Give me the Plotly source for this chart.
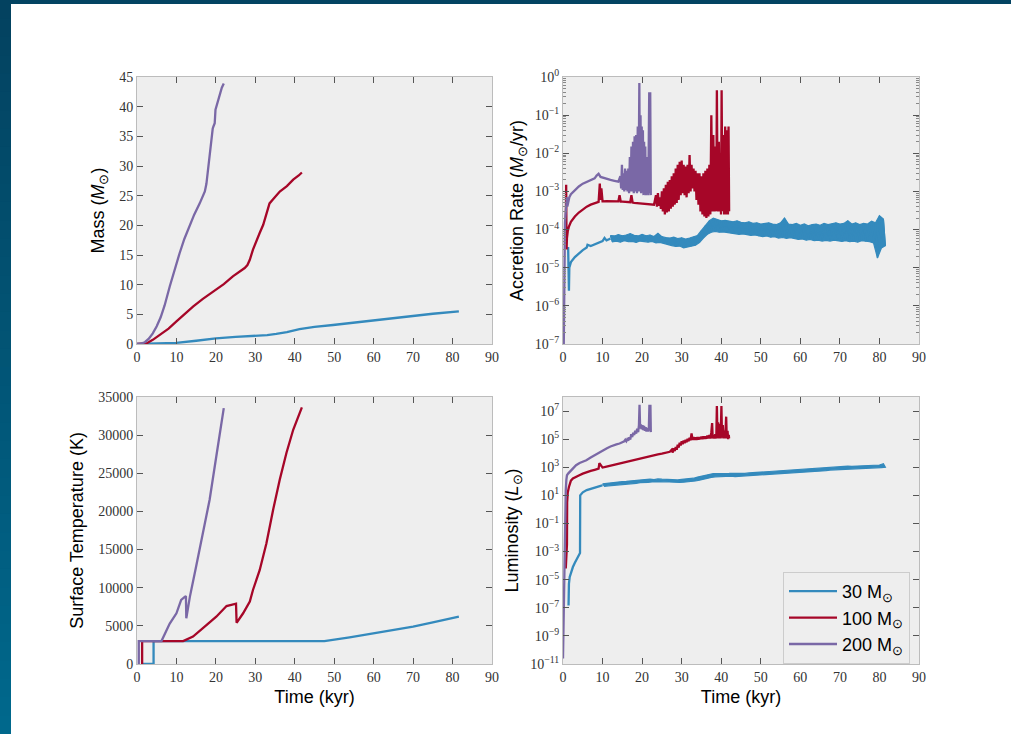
import plotly.graph_objects as go

# ------------------------------------------------------------------
# DATA
# ------------------------------------------------------------------
series_names = ["30 M<sub>⊙</sub>", "100 M<sub>⊙</sub>", "200 M<sub>⊙</sub>"]

# --- Mass (Msun) vs time (kyr)
mass30_t = [0, 5, 10, 15, 20, 25, 29.4, 33, 35.3, 38, 41.2, 45, 49.7, 55, 59.8, 65, 70, 75, 81.6]
mass30_m = [0, 0.05, 0.2, 0.55, 0.95, 1.2, 1.35, 1.5, 1.7, 2.0, 2.5, 2.9, 3.2, 3.6, 4.05, 4.4, 4.8, 5.1, 5.5]
mass100_t = [0, 1.5, 2.4, 4, 5.7, 8, 10, 12, 14.2, 16.7, 19.3, 22, 24.3, 26, 27.3, 28, 28.6, 29.4,
             30.3, 31.1, 32, 32.8, 33.6, 34.5, 36.2, 38, 39.6, 41, 41.8]
mass100_m = [0, 0, 0.1, 0.7, 1.5, 2.6, 3.8, 5.0, 6.3, 7.6, 8.8, 10.1, 11.4, 12.2, 12.8, 13.3, 14.2, 15.9,
             17.5, 18.7, 20.1, 22.0, 23.7, 24.4, 25.7, 26.6, 27.7, 28.4, 28.9]
mass200_t = [0, 1, 2, 3, 4, 5, 6, 7, 8.3, 9.5, 10.8, 12, 13.4, 14.5, 15.9, 17.2, 17.6, 18.0, 18.5,
             18.9, 19.2, 19.4, 19.7, 19.9, 20.5, 21, 21.5, 22]
mass200_m = [0, 0.05, 0.3, 0.9, 1.8, 3.0, 4.5, 6.5, 9.7, 12.5, 15.3, 17.7, 20, 21.8, 23.7, 25.7, 27, 29.4, 32,
             35, 36.3, 36.7, 37.2, 39.5, 40.8, 42.3, 43.2, 43.9]

# --- Accretion rate (Msun/yr)
acc30_t = [1.3, 1.4, 1.5, 1.6, 2, 3, 4, 5, 6, 6.2, 7, 8, 9, 10, 10.5, 11, 11.5, 12]
acc30_v = [3.5e-5, 2.5e-6, 2.5e-6, 1e-5, 1.4e-5, 1.9e-5, 2.4e-5, 2.9e-5, 3.4e-5, 4e-5, 3.7e-5,
           4.1e-5, 4.5e-5, 5e-5, 6e-5, 5.2e-5, 5.5e-5, 5.8e-5]
# noisy band: upper edge at t = 12, 13, ... 81 ; lower edge at t = 12.5, 13.5, ... 81.5
acc30_band_start = 12
acc30_upper = [7.0e-5, 6.8e-5, 7.4e-5, 6.9e-5, 7.2e-5, 7.8e-5, 7.1e-5, 6.8e-5, 7.5e-5, 6.9e-5,
               7.2e-5, 6.6e-5, 8.0e-5, 6.5e-5, 6.2e-5, 6.0e-5, 6.3e-5, 5.8e-5, 6.1e-5, 5.6e-5,
               6.0e-5, 6.4e-5, 7.0e-5, 9.5e-5, 1.3e-4, 1.7e-4, 2.0e-4, 1.8e-4, 1.7e-4, 1.75e-4,
               1.65e-4, 1.6e-4, 1.7e-4, 1.55e-4, 1.5e-4, 1.6e-4, 1.45e-4, 1.5e-4, 1.4e-4, 1.45e-4,
               1.5e-4, 1.4e-4, 1.35e-4, 1.5e-4, 2.0e-4, 1.4e-4, 1.35e-4, 1.45e-4, 1.3e-4, 1.4e-4,
               1.25e-4, 1.35e-4, 1.4e-4, 1.3e-4, 1.45e-4, 1.35e-4, 1.4e-4, 1.5e-4, 1.4e-4, 1.45e-4,
               1.7e-4, 1.4e-4, 1.5e-4, 1.35e-4, 1.45e-4, 1.4e-4, 1.65e-4, 1.5e-4, 2.3e-4, 1.9e-4]
acc30_lower = [4.8e-5, 5.0e-5, 4.7e-5, 5.1e-5, 4.8e-5, 4.9e-5, 4.6e-5, 5.0e-5, 4.8e-5, 4.7e-5,
               4.9e-5, 4.5e-5, 4.6e-5, 4.2e-5, 4.0e-5, 3.8e-5, 3.6e-5, 3.7e-5, 3.3e-5, 3.5e-5,
               3.7e-5, 3.9e-5, 4.6e-5, 6.0e-5, 7.5e-5, 8.5e-5, 9.0e-5, 8.5e-5, 8.7e-5, 8.3e-5,
               8.0e-5, 7.7e-5, 7.5e-5, 7.7e-5, 7.3e-5, 7.0e-5, 7.2e-5, 6.7e-5, 6.5e-5, 6.8e-5,
               6.3e-5, 6.5e-5, 6.0e-5, 6.2e-5, 5.9e-5, 6.1e-5, 5.7e-5, 5.5e-5, 5.7e-5, 5.3e-5,
               5.5e-5, 5.1e-5, 5.3e-5, 5.0e-5, 5.2e-5, 5.0e-5, 5.3e-5, 5.1e-5, 4.9e-5, 5.1e-5,
               4.8e-5, 5.0e-5, 4.7e-5, 5.1e-5, 4.9e-5, 4.8e-5, 4.5e-5, 1.8e-5, 3.3e-5, 3.8e-5]

acc100_t = [0.5, 0.7, 0.8, 0.85, 0.9, 1.0, 1.2, 1.5, 2, 3, 4, 5, 6, 7, 8, 9, 9.3, 9.5, 9.7, 10, 11, 12,
            13, 14, 14.3, 14.6, 15, 16, 17, 17.3, 17.6, 18, 19, 20, 21, 22, 23,
            23.5, 23.75, 24.0, 24.25, 24.5, 24.75, 25, 25.25, 25.5, 25.75, 26, 26.25, 26.5, 26.75,
            27, 27.25, 27.5, 27.75, 28, 28.25, 28.5, 28.75, 29, 29.25, 29.5, 29.75, 30, 30.25,
            30.5, 30.75, 31, 31.25, 31.5, 31.75, 32, 32.25, 32.5, 32.75, 33, 33.25, 33.5, 33.75,
            34, 34.25, 34.5, 34.75, 35, 35.25, 35.5, 35.75, 36, 36.25, 36.5, 36.75, 37, 37.25,
            37.5, 37.75, 38, 38.25, 38.5, 38.75, 38.9, 39.1, 39.4, 39.6, 39.8, 39.95, 40.1, 40.3,
            40.5, 40.75, 41, 41.25, 41.5, 41.7, 41.85, 42.0]
acc100_v = [8e-5, 1e-4, 1.5e-3, 5e-4, 3e-5, 6e-5, 9e-5, 1.2e-4, 1.6e-4, 2.2e-4, 2.8e-4, 3.4e-4, 4e-4,
            4.5e-4, 5e-4, 5.3e-4, 1.6e-3, 6e-4, 1.2e-3, 5.5e-4, 5.6e-4, 5.6e-4, 5.5e-4, 5.5e-4, 8e-4,
            5.4e-4, 5.4e-4, 5.3e-4, 5.2e-4, 8e-4, 5.1e-4, 5e-4, 4.9e-4, 4.8e-4, 4.7e-4, 4.6e-4, 4.5e-4,
            8e-4, 4e-4, 9e-4, 4.2e-4, 7e-4, 3.5e-4, 1e-3, 3e-4, 1.2e-3, 2.5e-4, 1.5e-3, 2.8e-4,
            1.8e-3, 3e-4, 2e-3, 3.5e-4, 2.5e-3, 4e-4, 3e-3, 4.5e-4, 4e-3, 5e-4, 5e-3, 6e-4, 6e-3,
            8e-4, 6.5e-3, 9e-4, 5e-3, 8e-4, 4.5e-3, 7e-4, 5e-3, 9e-4, 9e-3, 1e-3, 5e-3, 1.2e-3,
            4e-3, 1e-3, 3.5e-3, 6e-4, 3e-3, 4.5e-4, 3e-3, 3e-4, 2.5e-3, 2.5e-4, 3e-3, 2.2e-4,
            3.5e-3, 2e-4, 4e-3, 2.2e-4, 5e-3, 2.5e-4, 1e-1, 3e-4, 3e-2, 3e-4, 1.5e-2, 3e-4,
            4.5e-1, 3e-4, 2e-2, 3e-4, 1e-2, 2.5e-4, 4.5e-1, 3e-4, 3e-2, 2.5e-4, 5e-2, 2.5e-4,
            4e-2, 2.5e-4, 5e-2, 3e-4]

acc200_t = [0.2, 0.3, 0.4, 0.5, 0.7, 0.9, 1.0, 1.1, 1.3, 1.6, 2, 3, 4, 5, 6, 7, 8, 8.5, 9, 9.5, 10,
            11, 12, 13, 14, 14.5, 14.7, 14.9, 15.1, 15.3, 15.5, 15.7, 15.9, 16.1, 16.3, 16.5, 16.7,
            16.9, 17.1, 17.3, 17.5, 17.7, 17.9, 18.1, 18.3, 18.5, 18.7, 18.9, 19.1, 19.3, 19.45,
            19.6, 19.75, 19.9, 20.05, 20.2, 20.35, 20.5, 20.65, 20.8, 20.95, 21.1, 21.25, 21.4,
            21.55, 21.8, 21.95, 22.05, 22.2]
acc200_v = [1e-7, 2e-6, 3e-5, 1.5e-4, 3e-4, 5e-4, 7e-4, 4e-4, 5.5e-4, 7e-4, 8.5e-4, 1.1e-3, 1.35e-3,
            1.6e-3, 1.8e-3, 2e-3, 2.2e-3, 2.6e-3, 2.9e-3, 2.4e-3, 2.3e-3, 2.1e-3, 2e-3, 1.9e-3,
            1.8e-3, 2.5e-3, 1.2e-3, 5e-3, 1.1e-3, 3e-3, 1e-3, 4e-3, 1.1e-3, 3.5e-3, 1e-3, 4e-3,
            9e-4, 8e-3, 1e-3, 1.5e-2, 1e-3, 2e-2, 9e-4, 2.8e-2, 1e-3, 3e-2, 9e-4, 5e-2, 1e-3,
            7e-1, 1e-3, 1e-1, 9e-4, 5e-2, 1e-3, 4e-2, 8e-4, 2e-2, 9e-4, 1.5e-2, 8e-4, 8e-3, 9e-4,
            6e-3, 8e-4, 4e-1, 9e-4, 4e-1, 8e-4]

# --- Surface temperature (K)
temp30_t = [1.4, 4.2, 4.2, 47.5, 53.9, 59.8, 65, 70, 75, 81.6]
temp30_T = [0, 0, 3000, 3000, 3500, 4020, 4450, 4900, 5450, 6210]
temp100_t = [1.3, 1.3, 11.7, 14.2, 17.6, 20.1, 22.7, 25.1, 25.25, 26.9, 28.6, 29.4, 31.1, 32.8,
             34.5, 36.2, 37.9, 39.6, 41.8]
temp100_T = [0, 3000, 3000, 3600, 5100, 6200, 7600, 7900, 5400, 6650, 8200, 9700, 12300, 15800,
             20200, 24200, 27700, 30700, 33650]
temp200_t = [0.45, 0.45, 6.2, 7.5, 8.3, 10, 11.2, 12.1, 12.4, 12.5, 13.4, 15, 16.7, 18.4, 20.1, 22]
temp200_T = [0, 3000, 3000, 4300, 5300, 6650, 8400, 8800, 8900, 6000, 8800, 12800, 17150, 21500,
             27200, 33550]

# --- Luminosity (log10 Lsun)
lum30_t = [1.4, 1.45, 1.5, 1.7, 2, 2.5, 3, 3.5, 4, 4.3, 4.35, 5, 6, 7, 8, 9, 9.5, 10]
lum30_log = [-6.84, -5.5, -5.3, -4.8, -4.5, -4.1, -3.8, -3.5, -3.25, -3.1, 1.0, 1.22, 1.38, 1.48,
             1.56, 1.64, 1.68, 1.72]
# noisy band: upper edge at t = 10, 11, ... 81 ; lower edge at t = 10.5, 11.5, ... 81.5
lum30_band_start = 10
lum30_upper_log = [1.82, 1.86, 1.88, 1.92, 1.93, 1.98, 2.0, 2.03, 2.06, 2.1,
                   2.12, 2.14, 2.16, 2.12, 2.17, 2.15, 2.13, 2.14, 2.12, 2.1,
                   2.14, 2.15, 2.18, 2.22, 2.3, 2.36, 2.42, 2.5, 2.55, 2.55,
                   2.57, 2.58, 2.56, 2.57, 2.55, 2.58, 2.56, 2.6, 2.62, 2.63,
                   2.65, 2.66, 2.68, 2.72, 2.73, 2.76, 2.8, 2.78, 2.82, 2.84,
                   2.84, 2.86, 2.88, 2.9, 2.92, 2.94, 2.96, 2.98, 3.02, 3.05,
                   3.05, 3.06, 3.08, 3.07, 3.08, 3.09, 3.1, 3.12, 3.14, 3.15,
                   3.16, 3.25]
lum30_lower_log = [1.64, 1.68, 1.70, 1.74, 1.77, 1.80, 1.82, 1.84, 1.86, 1.9,
                   1.94, 1.93, 1.96, 1.97, 1.96, 1.97, 1.95, 1.93, 1.94, 1.92,
                   1.94, 1.96, 1.98, 2.02, 2.08, 2.16, 2.2, 2.28, 2.32, 2.35,
                   2.35, 2.36, 2.36, 2.34, 2.36, 2.38, 2.37, 2.39, 2.4, 2.43,
                   2.45, 2.45, 2.48, 2.5, 2.52, 2.56, 2.56, 2.6, 2.6, 2.63,
                   2.64, 2.66, 2.68, 2.7, 2.72, 2.74, 2.76, 2.8, 2.82, 2.84,
                   2.86, 2.86, 2.88, 2.89, 2.9, 2.9, 2.92, 2.94, 2.96, 2.97,
                   2.98, 3.0]

lum100_t = [0.7, 0.75, 0.8, 0.9, 1.0, 1.05, 1.2, 1.5, 2, 2.5, 3.4, 4, 5, 6, 7, 8, 9, 9.2, 9.5, 9.8,
            10, 11, 12, 13, 14, 15, 16, 17, 18, 19, 20, 21, 22, 23, 24, 25, 26, 27,
            27.5, 27.75, 28, 28.25, 28.5, 28.75, 29, 29.25, 29.5, 29.75, 30, 30.25, 30.5, 30.75,
            31, 31.25, 31.5, 31.75, 32, 32.25, 32.5, 32.75, 33, 33.25, 33.5, 33.75, 34, 34.25,
            34.5, 34.75, 35, 35.25, 35.5, 35.75, 36, 36.25, 36.5, 36.75, 37, 37.25, 37.5, 37.7,
            37.85, 38.0, 38.25, 38.5, 38.75, 38.9, 39.05, 39.2, 39.35, 39.5, 39.7, 39.85, 40.05,
            40.2, 40.4, 40.55, 40.8, 41.0, 41.25, 41.4, 41.6, 41.75, 41.9, 42.0]
lum100_log = [-4.2, -3.8, -3.2, -2.8, -2.5, 0.5, 1.2, 1.6, 2.05, 2.2, 2.3, 2.42, 2.55, 2.66, 2.74,
              2.82, 2.9, 3.3, 3.2, 3.1, 2.98, 3.05, 3.12, 3.17, 3.25, 3.3, 3.37, 3.45, 3.52, 3.6,
              3.68, 3.73, 3.8, 3.85, 3.92, 3.97, 4.03, 4.1,
              4.25, 4.05, 4.35, 4.15, 4.45, 4.25, 4.6, 4.4, 4.75, 4.55, 4.85, 4.65, 4.9, 4.72,
              4.95, 4.78, 5.02, 4.85, 5.1, 4.92, 5.4, 4.95, 5.15, 4.95, 5.12, 4.95, 5.15, 4.97,
              5.15, 5.0, 5.18, 5.0, 5.2, 5.02, 5.2, 5.03, 5.25, 5.05, 5.3, 5.05, 5.5, 6.15,
              5.05, 5.3, 5.05, 5.35, 5.05, 7.35, 5.1, 6.2, 5.05, 5.5, 6.1, 5.05, 7.35,
              5.1, 6.0, 5.05, 5.6, 5.05, 6.6, 5.05, 5.6, 5.0, 5.3, 5.05]

lum200_t = [0.0, 0.1, 0.17, 0.25, 0.34, 0.5, 0.6, 0.7, 0.85, 1.0, 1.3, 1.7, 2.5, 3.3, 4.2, 5, 5.9,
            7, 7.6, 8.5, 9.3, 10, 11, 12, 12.7, 13.5, 14.3, 15, 15.5,
            15.75, 16.0, 16.25, 16.5, 16.75, 17.0, 17.25, 17.5, 17.75, 18.0, 18.25, 18.5, 18.75,
            19.0, 19.2, 19.35, 19.5, 19.7, 19.9, 20.1, 20.3, 20.5, 20.7, 20.9, 21.1, 21.3, 21.5,
            21.7, 21.85, 22.0, 22.1, 22.2]
lum200_log = [-10.6, -9, -7.4, -5, -2.9, -2.2, -1, 1.36, 2.1, 2.43, 2.55, 2.67, 2.98, 3.15, 3.31,
              3.4, 3.5, 3.69, 3.79, 3.95, 4.1, 4.2, 4.34, 4.48, 4.57, 4.63, 4.69, 4.78, 4.85,
              4.95, 4.85, 5.0, 4.9, 5.12, 4.98, 5.35, 5.15, 5.45, 5.3, 5.6, 5.4, 5.75,
              5.5, 6.0, 7.45, 5.75, 6.05, 5.7, 6.0, 5.65, 5.95, 5.6, 5.85, 5.55, 5.8, 5.55,
              5.75, 7.45, 5.6, 7.45, 5.5]

# tick labels
time_ticks = [0, 10, 20, 30, 40, 50, 60, 70, 80, 90]
mass_ticks = [0, 5, 10, 15, 20, 25, 30, 35, 40, 45]
temp_ticks = [0, 5000, 10000, 15000, 20000, 25000, 30000, 35000]
acc_exponents = [-7, -6, -5, -4, -3, -2, -1, 0]
lum_exponents = [-11, -9, -7, -5, -3, -1, 1, 3, 5, 7]


# ------------------------------------------------------------------
# helpers
# ------------------------------------------------------------------
def band_polygon(t0, upper, lower):
    """closed outline: upper edge left->right, lower edge right->left"""
    tu = [t0 + k for k in range(len(upper))]
    tl = [t0 + k + 0.5 for k in range(len(lower))]
    return tu + tl[::-1] + [tu[0]], list(upper) + list(lower)[::-1] + [upper[0]]


def band_zigzag(t0, upper, lower):
    ts, vs = [], []
    for k, (u, l) in enumerate(zip(upper, lower)):
        ts += [t0 + k, t0 + k + 0.5]
        vs += [u, l]
    return ts, vs


def sup(e):
    return "10<sup>" + str(e).replace("-", "−") + "</sup>"


COLORS = ["#348ABD", "#A60628", "#7A68A6"]
LW = 2.3

fig = go.Figure()


def line(xa, ya, t, v, i, leg=False):
    fig.add_trace(go.Scatter(x=t, y=v, xaxis=xa, yaxis=ya, mode="lines",
                             line=dict(color=COLORS[i], width=LW),
                             name=series_names[i], showlegend=leg, hoverinfo="skip"))


def fillband(xa, ya, t, v, i):
    fig.add_trace(go.Scatter(x=t, y=v, xaxis=xa, yaxis=ya, mode="lines", fill="toself",
                             fillcolor=COLORS[i], line=dict(color=COLORS[i], width=1.2),
                             showlegend=False, hoverinfo="skip"))


# mass
line("x", "y", mass30_t, mass30_m, 0)
line("x", "y", mass100_t, mass100_m, 1)
line("x", "y", mass200_t, mass200_m, 2)

# accretion rate
line("x2", "y2", acc30_t, acc30_v, 0)
pt, pv = band_polygon(acc30_band_start, acc30_upper, acc30_lower)
fillband("x2", "y2", pt, pv, 0)
zt, zv = band_zigzag(acc30_band_start, acc30_upper, acc30_lower)
fig.add_trace(go.Scatter(x=zt, y=zv, xaxis="x2", yaxis="y2", mode="lines",
                         line=dict(color=COLORS[0], width=1.2), showlegend=False, hoverinfo="skip"))
line("x2", "y2", acc100_t, acc100_v, 1)
line("x2", "y2", acc200_t, acc200_v, 2)

# temperature
line("x3", "y3", temp30_t, temp30_T, 0)
line("x3", "y3", temp100_t, temp100_T, 1)
line("x3", "y3", temp200_t, temp200_T, 2)

# luminosity
line("x4", "y4", lum30_t, [10 ** v for v in lum30_log], 0, leg=True)
pt, pv = band_polygon(lum30_band_start, lum30_upper_log, lum30_lower_log)
fillband("x4", "y4", pt, [10 ** v for v in pv], 0)
line("x4", "y4", lum100_t, [10 ** v for v in lum100_log], 1, leg=True)
line("x4", "y4", lum200_t, [10 ** v for v in lum200_log], 2, leg=True)

W, H = 1011, 734
L_DOM = [137 / W, 492 / W]
R_DOM = [563 / W, 919 / W]
T_DOM = [1 - 344 / H, 1 - 77 / H]
B_DOM = [1 - 664 / H, 1 - 397 / H]

TICKFONT = dict(family="Liberation Serif, DejaVu Serif, serif", size=14, color="#333333")
TITLEFONT = dict(family="Liberation Sans, Arial, sans-serif", size=18, color="#000000")

common = dict(showline=True, linecolor="#bcbcbc", linewidth=1, mirror="ticks",
              ticks="inside", ticklen=6, tickwidth=1, tickcolor="#555555",
              showgrid=False, zeroline=False, tickfont=TICKFONT, automargin=False)


def xaxis(domain, anchor, title):
    d = dict(common, domain=domain, anchor=anchor, range=[0, 90], tickmode="array",
             tickvals=time_ticks, ticktext=[str(v) for v in time_ticks])
    if title:
        d["title"] = dict(text=title, font=TITLEFONT, standoff=6)
    return d


log_minor = []
for e in range(-8, 1):
    for m in range(2, 10):
        log_minor.append(m * 10 ** e)

fig.update_layout(
    width=W, height=H, autosize=False,
    margin=dict(l=0, r=0, t=0, b=0, pad=0),
    paper_bgcolor="white", plot_bgcolor="#eeeeee",
    xaxis=xaxis(L_DOM, "y", None),
    xaxis2=xaxis(R_DOM, "y2", None),
    xaxis3=xaxis(L_DOM, "y3", "Time (kyr)"),
    xaxis4=xaxis(R_DOM, "y4", "Time (kyr)"),
    yaxis=dict(common, domain=T_DOM, anchor="x", range=[0, 45], tickmode="array",
               tickvals=mass_ticks, ticktext=[str(v) for v in mass_ticks],
               title=dict(text="Mass (<i>M</i><sub>⊙</sub>)", font=TITLEFONT, standoff=9)),
    yaxis2=dict(common, domain=T_DOM, anchor="x2", type="log", range=[-7, 0], tickmode="array",
                tickvals=[10 ** e for e in acc_exponents], ticktext=[sup(e) for e in acc_exponents],
                minor=dict(ticks="inside", ticklen=3, tickcolor="#888888", tickvals=log_minor),
                title=dict(text="Accretion Rate (<i>M</i><sub>⊙</sub>/yr)", font=TITLEFONT, standoff=6)),
    yaxis3=dict(common, domain=B_DOM, anchor="x3", range=[0, 35000], tickmode="array",
                tickvals=temp_ticks, ticktext=[str(v) for v in temp_ticks],
                title=dict(text="Surface Temperature (K)", font=TITLEFONT, standoff=9)),
    yaxis4=dict(common, domain=B_DOM, anchor="x4", type="log", range=[-11, 8], tickmode="array",
                tickvals=[10 ** e for e in lum_exponents], ticktext=[sup(e) for e in lum_exponents],
                title=dict(text="Luminosity (<i>L</i><sub>⊙</sub>)", font=TITLEFONT, standoff=6)),
    legend=dict(x=783 / W, y=1 - 572 / H, xanchor="left", yanchor="top", itemwidth=48,
                bgcolor="#eeeeee", bordercolor="#cccccc", borderwidth=1,
                font=dict(family="Liberation Sans, Arial, sans-serif", size=18, color="#000000")),
)

# slide frame: dark top bar and gradient left bar
shapes = [dict(type="rect", xref="paper", yref="paper", x0=0, x1=1, y0=1 - 4 / H, y1=1,
               fillcolor="#034462", line=dict(width=0), layer="above")]
N = 40
c0, c1 = (3, 66, 96), (0, 104, 140)
for k in range(N):
    f = k / (N - 1)
    col = "rgb(%d,%d,%d)" % tuple(round(a + (b - a) * f) for a, b in zip(c0, c1))
    shapes.append(dict(type="rect", xref="paper", yref="paper", x0=0, x1=11 / W,
                       y0=1 - (k + 1) / N - 0.002, y1=1 - k / N,
                       fillcolor=col, line=dict(width=0), layer="above"))
fig.update_layout(shapes=shapes)

fig.write_html("out.html")
